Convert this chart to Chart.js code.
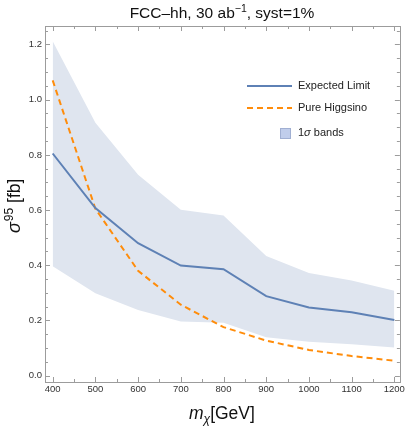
<!DOCTYPE html>
<html><head><meta charset="utf-8">
<script src="https://cdn.jsdelivr.net/npm/chart.js@4/dist/chart.umd.min.js"></script>
<style>html,body{margin:0;padding:0;background:#fff}#wrap{width:407px;height:429px}</style>
</head><body><div id="wrap"><canvas id="c" width="407" height="429"></canvas></div>
<script>
const masses = [400, 500, 600, 700, 800, 900, 1000, 1100, 1200];
const expectedLimit = [0.805, 0.607, 0.480, 0.399, 0.386, 0.288, 0.247, 0.230, 0.202];
const pureHiggsino = [1.070, 0.605, 0.380, 0.257, 0.176, 0.127, 0.093, 0.071, 0.054];
const bandUpper = [1.212, 0.916, 0.728, 0.601, 0.580, 0.434, 0.372, 0.345, 0.308];
const bandLower = [0.396, 0.299, 0.238, 0.196, 0.192, 0.139, 0.123, 0.114, 0.102];
const xTickValues = [400, 500, 600, 700, 800, 900, 1000, 1100, 1200];
const xTickLabels = ['400', '500', '600', '700', '800', '900', '1000', '1100', '1200'];
const yTickValues = [0, 0.2, 0.4, 0.6, 0.8, 1.0, 1.2];
const yTickLabels = ['0.0', '0.2', '0.4', '0.6', '0.8', '1.0', '1.2'];
const legendLabels = ['Expected Limit', 'Pure Higgsino', '1σ bands'];

const BLUE = 'rgb(94,129,181)';
const ORANGE = 'rgb(255,140,10)';
const BAND = 'rgb(223,229,239)';
const FONT = '"Liberation Sans", Arial, sans-serif';

const pts = ys => masses.map((m, i) => ({ x: m, y: ys[i] }));

const decor = {
  id: 'decor',
  afterDraw(chart) {
    const ctx = chart.ctx, a = chart.chartArea;
    const xs = chart.scales.x, ys = chart.scales.y;
    ctx.save();
    // frame
    ctx.strokeStyle = '#9c9c9c';
    ctx.lineWidth = 1;
    ctx.strokeRect(Math.round(a.left) + 0.5, Math.round(a.top) + 0.5,
      Math.round(a.right - a.left), Math.round(a.bottom - a.top));
    // ticks
    ctx.beginPath();
    for (let v = 400; v <= 1200; v += 50) {
      const px = Math.round(xs.getPixelForValue(v)) + 0.5;
      const len = (v % 100 === 0) ? 5 : 3;
      ctx.moveTo(px, a.bottom); ctx.lineTo(px, a.bottom - len);
      ctx.moveTo(px, a.top); ctx.lineTo(px, a.top + len);
    }
    for (let k = 0; k <= 25; k++) {
      const v = k * 0.05;
      const py = Math.round(ys.getPixelForValue(v)) + 0.5;
      const len = (k % 4 === 0) ? 5 : 3;
      ctx.moveTo(a.left, py); ctx.lineTo(a.left + len, py);
      ctx.moveTo(a.right, py); ctx.lineTo(a.right - len, py);
    }
    ctx.stroke();

    // title
    ctx.fillStyle = '#111';
    ctx.textBaseline = 'alphabetic';
    ctx.textAlign = 'left';
    const tFont = '15.5px ' + FONT, tSup = '10.5px ' + FONT;
    const p1 = 'FCC–hh, 30 ab', p2 = '−1', p3 = ', syst=1%';
    ctx.font = tFont; const w1 = ctx.measureText(p1).width, w3 = ctx.measureText(p3).width;
    ctx.font = tSup; const w2 = ctx.measureText(p2).width;
    let tx = 222 - (w1 + w2 + w3) / 2; const ty = 18;
    ctx.font = tFont; ctx.fillText(p1, tx, ty); tx += w1;
    ctx.font = tSup; ctx.fillText(p2, tx, ty - 6); tx += w2;
    ctx.font = tFont; ctx.fillText(p3, tx, ty);

    // x axis title
    let xx = 189; const xy = 419;
    ctx.font = 'italic 17.5px ' + FONT; ctx.fillText('m', xx, xy); xx += ctx.measureText('m').width;
    ctx.font = 'italic 12px ' + FONT; ctx.fillText('χ', xx, xy + 4); xx += ctx.measureText('χ').width;
    ctx.font = '17.5px ' + FONT; ctx.fillText('[GeV]', xx, xy);

    // y axis title (rotated)
    ctx.save();
    ctx.translate(20, 233);
    ctx.rotate(-Math.PI / 2);
    let yx = 0;
    ctx.font = 'italic 18px ' + FONT; ctx.fillText('σ', yx, 0); yx += ctx.measureText('σ').width + 1;
    ctx.font = '12px ' + FONT; ctx.fillText('95', yx, -7); yx += ctx.measureText('95').width;
    ctx.font = '17.5px ' + FONT; ctx.fillText(' [fb]', yx, 0);
    ctx.restore();

    // legend
    ctx.font = '11px ' + FONT;
    ctx.fillStyle = '#222';
    ctx.textBaseline = 'middle';
    ctx.lineWidth = 2;
    ctx.strokeStyle = BLUE;
    ctx.beginPath(); ctx.moveTo(247, 86); ctx.lineTo(292, 86); ctx.stroke();
    ctx.fillText(legendLabels[0], 298, 86);
    ctx.strokeStyle = ORANGE; ctx.setLineDash([6, 4]);
    ctx.beginPath(); ctx.moveTo(247, 108); ctx.lineTo(292, 108); ctx.stroke();
    ctx.setLineDash([]);
    ctx.fillText(legendLabels[1], 298, 108);
    ctx.fillStyle = 'rgb(192,205,235)';
    ctx.fillRect(280, 128, 11, 11);
    ctx.strokeStyle = 'rgb(160,175,210)'; ctx.lineWidth = 1;
    ctx.strokeRect(280.5, 128.5, 10, 10);
    ctx.fillStyle = '#222';
    ctx.font = '11px ' + FONT;
    const s1 = legendLabels[2].slice(0, 1), s2 = legendLabels[2].slice(1, 2), s3 = legendLabels[2].slice(2);
    ctx.fillText(s1, 298, 133);
    let lx = 298 + ctx.measureText(s1).width;
    ctx.font = 'italic 11px ' + FONT;
    ctx.fillText(s2, lx, 133);
    lx += ctx.measureText(s2).width;
    ctx.font = '11px ' + FONT;
    ctx.fillText(s3, lx, 133);
    ctx.restore();
  }
};

new Chart(document.getElementById('c'), {
  type: 'line',
  data: {
    datasets: [
      { label: legendLabels[0], data: pts(expectedLimit), borderColor: BLUE, borderWidth: 2,
        pointRadius: 0, fill: false, tension: 0 },
      { label: legendLabels[1], data: pts(pureHiggsino), borderColor: ORANGE, borderWidth: 2,
        borderDash: [6, 4], pointRadius: 0, fill: false, tension: 0 },
      { label: 'band upper', data: pts(bandUpper), borderWidth: 0, borderColor: 'rgba(0,0,0,0)',
        backgroundColor: BAND, pointRadius: 0, fill: '+1', tension: 0 },
      { label: 'band lower', data: pts(bandLower), borderWidth: 0, borderColor: 'rgba(0,0,0,0)',
        pointRadius: 0, fill: false, tension: 0 }
    ]
  },
  options: {
    responsive: false,
    animation: false,
    devicePixelRatio: 1,
    layout: { padding: { top: 26, right: 7, left: 0, bottom: 0 } },
    plugins: { legend: { display: false }, title: { display: false }, tooltip: { enabled: false } },
    scales: {
      x: {
        type: 'linear', min: 382, max: 1213,
        afterBuildTicks: s => { s.ticks = xTickValues.map(v => ({ value: v })); },
        afterFit: s => { s.height = 47; },
        grid: { display: false, drawTicks: false },
        border: { display: false },
        ticks: {
          autoSkip: false, maxRotation: 0, padding: 2, color: '#333',
          font: { family: FONT, size: 9.5 },
          callback: (v) => { const i = xTickValues.indexOf(v); return i >= 0 ? xTickLabels[i] : ''; }
        }
      },
      y: {
        type: 'linear', min: -0.023, max: 1.267,
        afterBuildTicks: s => { s.ticks = yTickValues.map(v => ({ value: v })); },
        afterFit: s => { s.width = 45; },
        grid: { display: false, drawTicks: false },
        border: { display: false },
        ticks: {
          autoSkip: false, padding: 3, color: '#333',
          font: { family: FONT, size: 9.5 },
          callback: (v) => { const i = yTickValues.findIndex(t => Math.abs(t - v) < 1e-9); return i >= 0 ? yTickLabels[i] : ''; }
        }
      }
    }
  },
  plugins: [decor]
});
</script></body></html>
